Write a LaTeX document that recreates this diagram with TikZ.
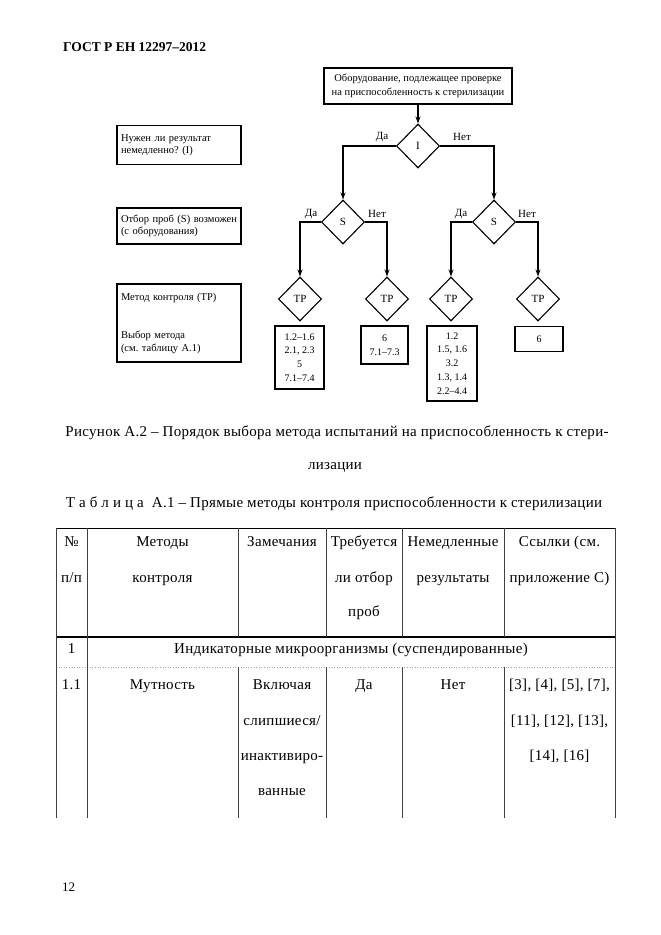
\documentclass[tikz,border=0pt]{standalone}
\usepackage{fontspec}
\setmainfont{Liberation Serif}
\newfontfamily\bodyfont[LetterSpace=2]{Liberation Serif}
\usetikzlibrary{shapes.geometric,arrows.meta}
\frenchspacing
\begin{document}
\begin{tikzpicture}[x=1pt,y=-1pt,
  dia/.style={diamond,draw,line width=1.1pt,inner sep=0pt,minimum width=43pt,minimum height=44pt,font=\fontsize{11}{13}\selectfont},
  conn/.style={line width=1.5pt,-{Stealth[length=7pt,width=5pt]}},
  lbl/.style={font=\fontsize{11}{13}\selectfont,inner sep=0pt},
  sidebox/.style={draw,line width=1.2pt,inner sep=4pt,text width=116pt,minimum width=124pt,align=left,font=\frenchspacing\fontsize{10.5}{12.5}\selectfont},
  resbox/.style={draw,line width=1.4pt,inner sep=0pt,align=center,font=\fontsize{10}{13.8}\selectfont},
  body/.style={font=\bodyfont\frenchspacing\fontsize{15}{17}\selectfont,inner sep=0pt,anchor=base},
  tline/.style={line width=0.9pt,black!75},
]
\useasboundingbox[fill=white] (0,0) rectangle (661,935);

% header
\node[font=\bfseries\fontsize{13.5}{15}\selectfont,inner sep=0pt,anchor=base west] (hdr) at (63,51) {ГОСТ Р ЕН 12297–2012};

% side boxes
\node[sidebox,minimum height=39pt] (q1) at (179,145) {Нужен ли результат\\немедленно? (I)};
\node[sidebox,minimum height=36pt] (q2) at (179,226) {Отбор проб (S) возможен\\(с оборудования)};
\node[sidebox,minimum height=78pt] (q3) at (179,323) {Метод контроля (TP)\\[26pt]Выбор метода\\(см. таблицу А.1)};

% flow chart
\node[draw,line width=1.3pt,minimum width=188pt,minimum height=36pt,inner sep=0pt,align=center,font=\fontsize{10.5}{13.5}\selectfont] (top) at (418,86) {Оборудование, подлежащее проверке\\на приспособленность к стерилизации};
\node[dia] (I) at (418,146) {I};
\node[dia] (S1) at (343,222) {S};
\node[dia] (S2) at (494,222) {S};
\node[dia] (T1) at (300,299) {TP};
\node[dia] (T2) at (387,299) {TP};
\node[dia] (T3) at (451,299) {TP};
\node[dia] (T4) at (538,299) {TP};

\draw[conn] (top) -- (I);
\draw[conn] (I.west) -| (S1.north);
\draw[conn] (I.east) -| (S2.north);
\draw[conn] (S1.west) -| (T1.north);
\draw[conn] (S1.east) -| (T2.north);
\draw[conn] (S2.west) -| (T3.north);
\draw[conn] (S2.east) -| (T4.north);

\node[lbl] (l1) at (382,137) {Да};
\node[lbl] (l2) at (462,137) {Нет};
\node[lbl] (l3) at (311,214) {Да};
\node[lbl] (l4) at (377,214) {Нет};
\node[lbl] (l5) at (461,214) {Да};
\node[lbl] (l6) at (527,214) {Нет};

\node[resbox,minimum width=49pt,minimum height=63pt] (r1) at (299.5,357.5) {1.2–1.6\\2.1, 2.3\\5\\7.1–7.4};
\node[resbox,minimum width=47pt,minimum height=38pt] (r2) at (384.5,345) {6\\7.1–7.3};
\node[resbox,minimum width=50pt,minimum height=75pt] (r3) at (452,363.5) {1.2\\1.5, 1.6\\3.2\\1.3, 1.4\\2.2–4.4};
\node[resbox,minimum width=48pt,minimum height=25pt] (r4) at (539,339) {6};

% captions
\node[body] (cap1) at (337,436) {Рисунок А.2 – Порядок выбора метода испытаний на приспособленность к стери-};
\node[body] (cap2) at (335,469) {лизации};
\node[body] (cap3) at (334,507) {Т а б л и ц а \ А.1 – Прямые методы контроля приспособленности к стерилизации};

% table lines
\draw[line width=1pt] (56,528) -- (615,528);
\draw[line width=2pt] (56,637) -- (615,637);
\draw[line width=0.6pt,black!35,dotted] (56,667) -- (615,667);
\draw[tline] (56,528) -- (56,818);
\draw[tline] (87,528) -- (87,818);
\draw[tline] (615,528) -- (615,818);
\foreach \cx in {238,326,402,504}{
  \draw[tline] (\cx,528) -- (\cx,637);
  \draw[tline] (\cx,667) -- (\cx,818);
}

% table header
\node[body] (a1) at (71.5,546) {№};
\node[body] (a2) at (71.5,582) {п/п};
\node[body] (b1) at (162.5,546) {Методы};
\node[body] (b2) at (162.5,582) {контроля};
\node[body] (c1) at (282,546) {Замечания};
\node[body] (d1) at (364,546) {Требуется};
\node[body] (d2) at (364,582) {ли отбор};
\node[body] (d3) at (364,616) {проб};
\node[body] (e1) at (453,546) {Немедленные};
\node[body] (e2) at (453,582) {результаты};
\node[body] (f1) at (559.5,546) {Ссылки (см.};
\node[body] (f2) at (559.5,582) {приложение С)};

% row 1
\node[body] (g1) at (71.5,653) {1};
\node[body] (g2) at (351,653) {Индикаторные микроорганизмы (суспендированные)};

% row 1.1
\node[body] (h1) at (71.5,689) {1.1};
\node[body] (h2) at (162.5,689) {Мутность};
\node[body] (h3) at (282,689) {Включая};
\node[body] (h4) at (282,725) {слипшиеся/};
\node[body] (h5) at (282,760) {инактивиро-};
\node[body] (h6) at (282,795) {ванные};
\node[body] (h7) at (364,689) {Да};
\node[body] (h8) at (453,689) {Нет};
\node[body] (h9) at (559.5,689) {[3], [4], [5], [7],};
\node[body] (h10) at (559.5,725) {[11], [12], [13],};
\node[body] (h11) at (559.5,760) {[14], [16]};

% page number
\node[font=\fontsize{13}{15}\selectfont,inner sep=0pt,anchor=base west] (pg) at (62,891) {12};
\end{tikzpicture}
\end{document}
